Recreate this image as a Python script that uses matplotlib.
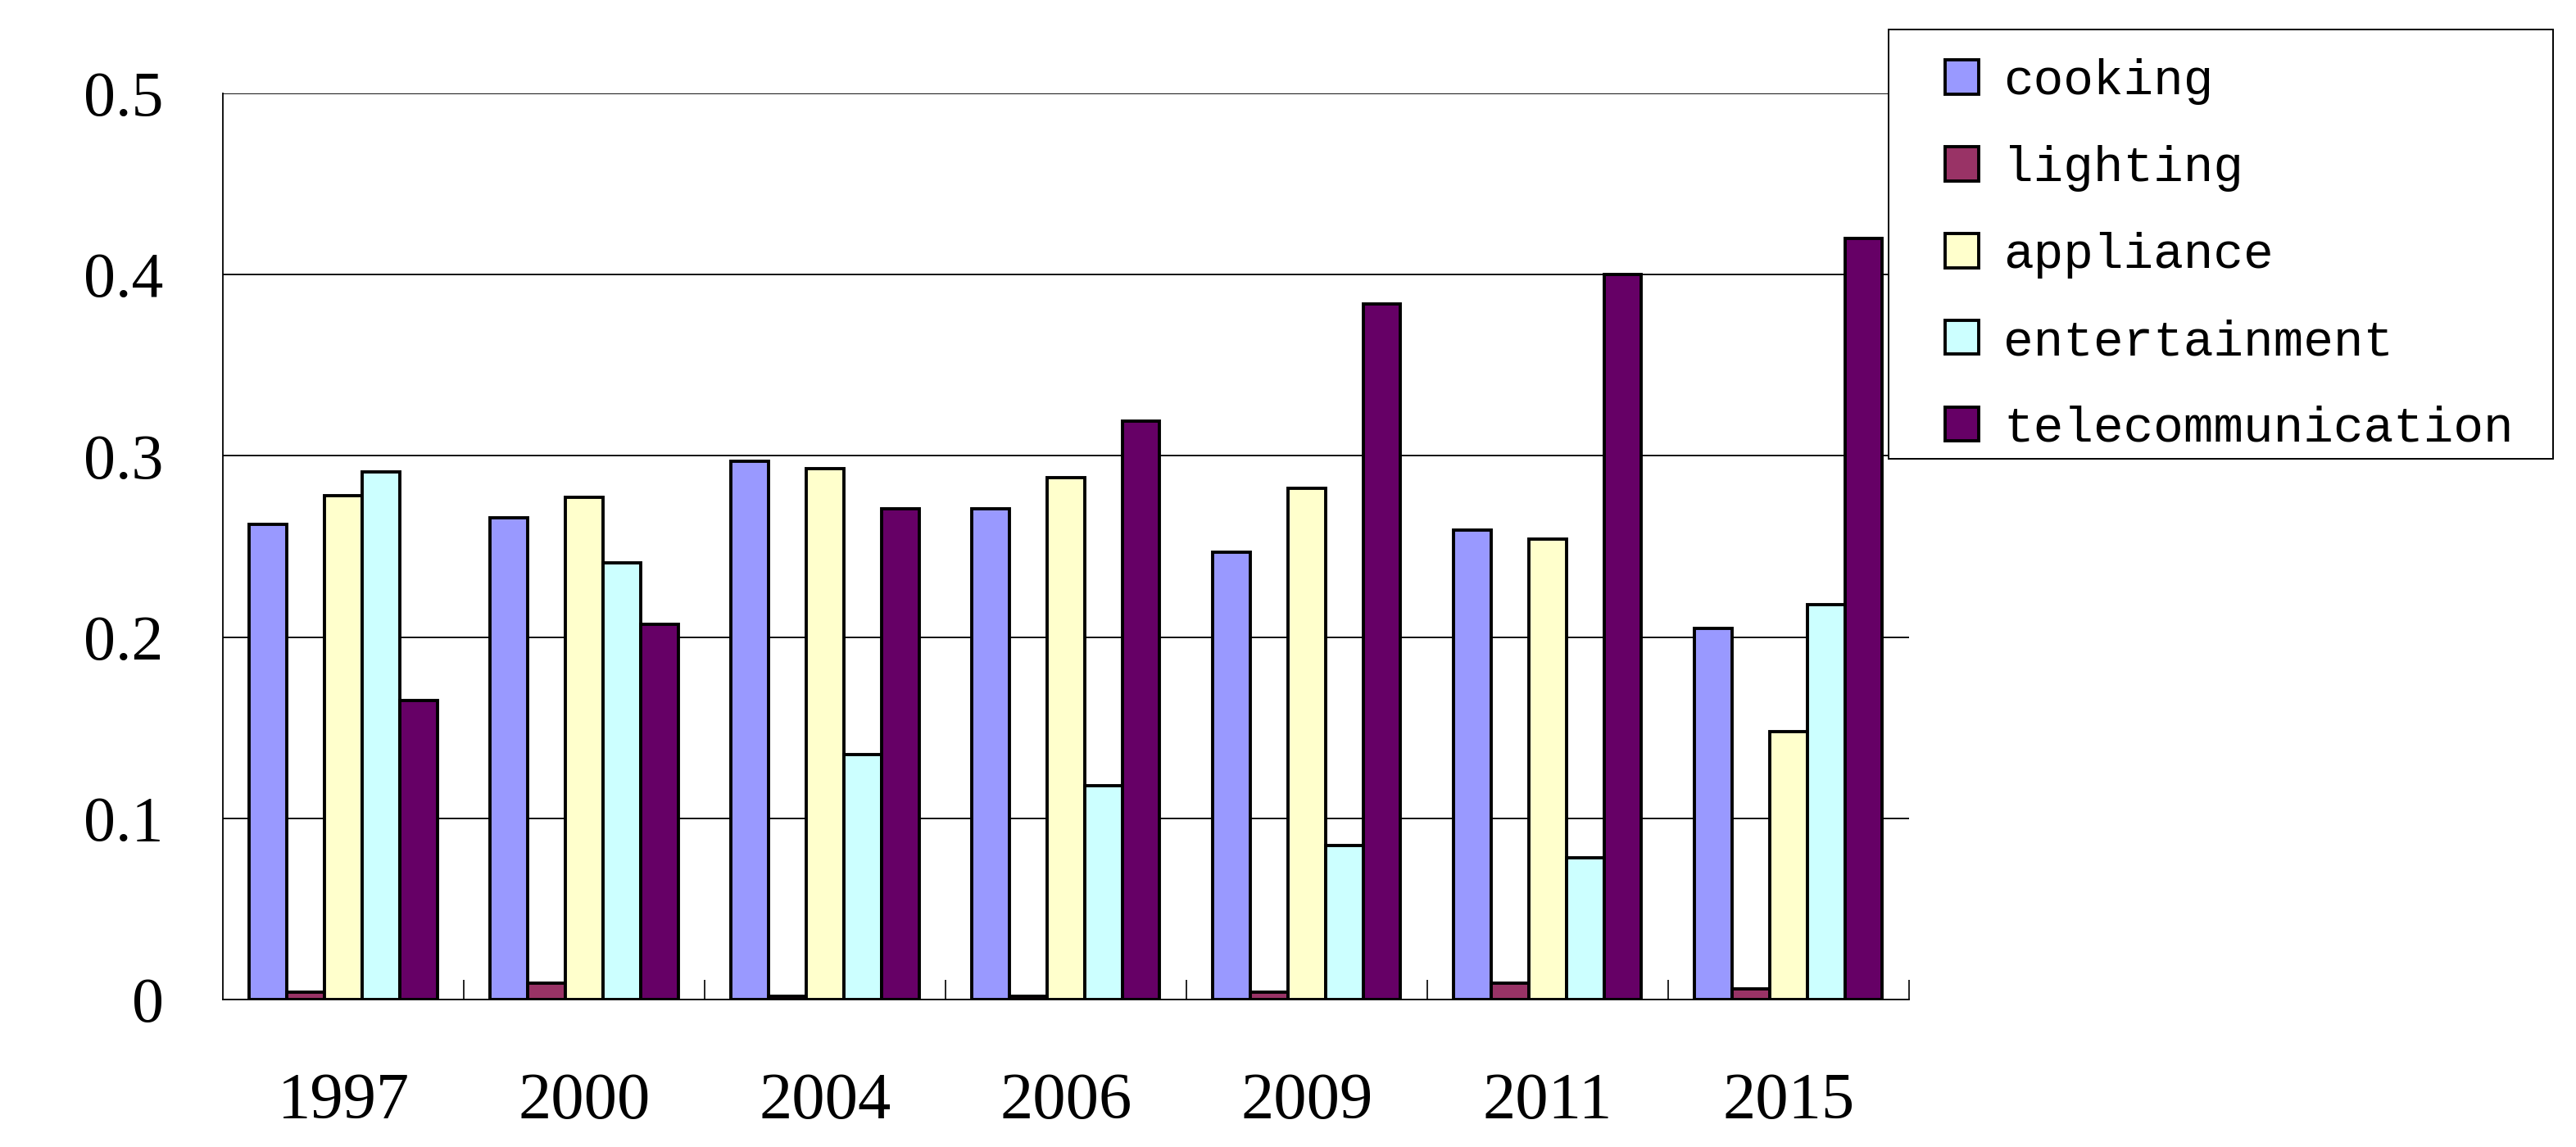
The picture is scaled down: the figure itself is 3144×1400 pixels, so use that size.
import matplotlib
matplotlib.use("Agg")
import matplotlib.pyplot as plt
import numpy as np
from matplotlib.patches import Rectangle
from matplotlib.ticker import FixedLocator

years = ["1997", "2000", "2004", "2006", "2009", "2011", "2015"]
series_names = ["cooking", "lighting", "appliance", "entertainment", "telecommunication"]
cooking = [0.262, 0.266, 0.297, 0.271, 0.247, 0.259, 0.205]
lighting = [0.004, 0.009, 0.002, 0.002, 0.004, 0.009, 0.006]
appliance = [0.278, 0.277, 0.293, 0.288, 0.282, 0.254, 0.148]
entertainment = [0.291, 0.241, 0.135, 0.118, 0.085, 0.078, 0.218]
telecommunication = [0.165, 0.207, 0.271, 0.319, 0.384, 0.400, 0.420]
colors = ["#9999FF", "#993366", "#FFFFCC", "#CCFFFF", "#660066"]
yticks = [0, 0.1, 0.2, 0.3, 0.4, 0.5]
ytick_labels = ["0", "0.1", "0.2", "0.3", "0.4", "0.5"]

values = [cooking, lighting, appliance, entertainment, telecommunication]

fig = plt.figure(figsize=(31.44, 14), dpi=100)
ax = fig.add_axes([0.0865, 0.1286, 0.6545, 0.79])

x = np.arange(len(years))
w = 0.156
for j, (name, vals, c) in enumerate(zip(series_names, values, colors)):
    ax.bar(x + (j - 2) * w, vals, width=w, color=c, edgecolor="black",
           linewidth=2.8, label=name, zorder=3)

ax.set_xlim(-0.5, len(years) - 0.5)
ax.set_ylim(0, 0.5)
ax.set_yticks(yticks)
ax.set_yticklabels(ytick_labels, fontfamily="Liberation Serif", fontsize=56)
ax.tick_params(axis="y", length=0, pad=52)
ax.set_xticks(x)
ax.set_xticklabels(years, fontfamily="Liberation Serif", fontsize=58)
ax.tick_params(axis="x", which="major", length=0, pad=64)
ax.xaxis.set_minor_locator(FixedLocator(np.arange(0.5, len(years), 1.0)))
ax.tick_params(axis="x", which="minor", direction="in", length=17, width=1.2, color="black")

ax.yaxis.grid(True, color="black", linewidth=1.3, zorder=0)
ax.set_axisbelow(True)
for s in ["top", "right"]:
    ax.spines[s].set_visible(False)
ax.spines["left"].set_linewidth(1.3)
ax.spines["bottom"].set_linewidth(1.3)

# legend frame
fig.patches.append(Rectangle((0.733, 0.600), 0.258, 0.374, transform=fig.transFigure,
                             facecolor="white", edgecolor="black", linewidth=1.4, zorder=5))
leg = fig.legend(loc="upper left", bbox_to_anchor=(0.755, 0.949), bbox_transform=fig.transFigure,
                 frameon=False, borderpad=0, borderaxespad=0,
                 prop={"family": "Liberation Mono", "size": 44},
                 handlelength=0.67, handleheight=0.67, handletextpad=0.5, labelspacing=0.8)
leg.set_zorder(6)
for h in leg.legend_handles:
    h.set_linewidth(2.8)

fig.savefig("out.png", dpi=100, facecolor="white")
